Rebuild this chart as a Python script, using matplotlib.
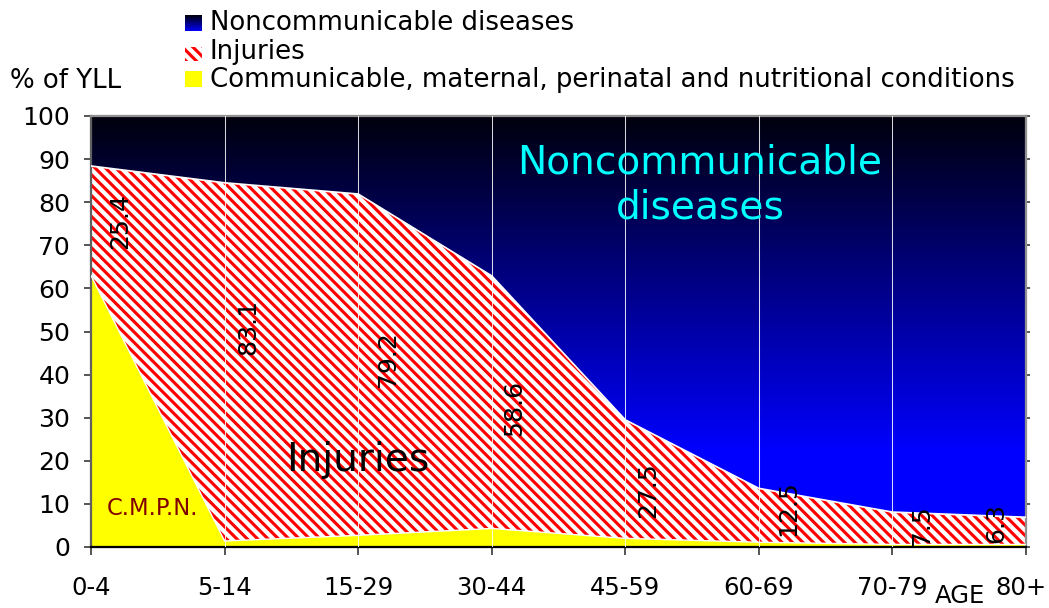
import numpy as np
import matplotlib
matplotlib.use('Agg')
import matplotlib.pyplot as plt
import matplotlib.transforms as mtransforms
from matplotlib.patches import Rectangle

plt.rcParams['font.family'] = ['DejaVu Sans']
plt.rcParams['hatch.linewidth'] = 1.8

# data (% of YLL by age group)
ages = ['0-4', '5-14', '15-29', '30-44', '45-59', '60-69', '70-79', '80+']
communicable = [63.0, 1.4, 2.7, 4.3, 2.0, 1.1, 0.6, 0.6]
injuries = [25.4, 83.1, 79.2, 58.6, 27.5, 12.5, 7.5, 6.3]
noncommunicable = [100 - c - i for c, i in zip(communicable, injuries)]

# where the rotated injury values sit (x offset from the age tick, y in %)
lab_dx = [0.22, 0.18, 0.22, 0.17, 0.17, 0.22, 0.22, -0.22]
lab_y = [75.6, 51.0, 43.5, 32.2, 13.2, 9.0, 5.0, 5.6]

W, H = 1049, 608
dpi = 125
fig = plt.figure(figsize=(W / dpi, H / dpi), dpi=dpi)
ax = fig.add_axes([91 / W, 1 - 547 / H, (1026 - 91) / W, (547 - 116) / H])

x = np.arange(len(ages))
comm = np.array(communicable)
inj_top = comm + np.array(injuries)

# gradient background = noncommunicable area
yy = np.linspace(0, 100, 400)
blue = np.clip(0.05 + (100 - yy) / 78 * 0.95, 0, 1)
grad = np.zeros((len(yy), 1, 3))
grad[:, 0, 2] = blue
ax.imshow(grad, extent=[0, len(ages) - 1, 0, 100], origin='lower',
          aspect='auto', interpolation='bilinear', zorder=0)

hatch = '\\\\\\\\'
ax.fill_between(x, comm, inj_top, facecolor='white', edgecolor='red',
                hatch=hatch, linewidth=0, zorder=1)
ax.fill_between(x, 0, comm, facecolor='yellow', linewidth=0, zorder=2)
ax.plot(x, inj_top, color='white', lw=1.0, zorder=3)
ax.plot(x, comm, color='white', lw=0.8, zorder=3)

for xi in x[1:-1]:
    ax.axvline(xi, color='white', lw=0.6, alpha=0.85, zorder=3)

for i, v in enumerate(injuries):
    ax.text(x[i] + lab_dx[i], lab_y[i], str(v), rotation=90, ha='center',
            va='center', fontsize=14.5, color='black', zorder=5)

ax.text(4.56, 84.0, 'Noncommunicable\ndiseases', color='#00FFFF',
        fontsize=22.5, ha='center', va='center', linespacing=1.25, zorder=5)
ax.text(2.0, 20.2, 'Injuries', color='black', fontsize=22.5,
        ha='center', va='center', zorder=5)
ax.text(0.46, 9.0, 'C.M.P.N.', color='#800000', fontsize=13,
        ha='center', va='center', zorder=5)

ax.set_xlim(0, len(ages) - 1)
ax.set_ylim(0, 100)
ax.set_xticks(x)
ax.set_xticklabels(ages, fontsize=14)
ax.set_yticks(np.arange(0, 101, 10))
ax.tick_params(axis='y', labelsize=14.5, length=4, width=1, pad=8,
               color='#404040')
ax.tick_params(axis='x', length=4.5, width=1, pad=12, color='#404040')
ax.tick_params(axis='y', which='both', right=True, direction='out')

# nudge the last age label in so it stays inside the figure
last = ax.get_xticklabels()[-1]
last.set_transform(last.get_transform() +
                   mtransforms.ScaledTranslation(-5 / dpi, 0, fig.dpi_scale_trans))

for side in ['top', 'right']:
    ax.spines[side].set_color('#909090')
    ax.spines[side].set_linewidth(1.3)
ax.spines['left'].set_color('#606060')
ax.spines['left'].set_linewidth(1.3)
ax.spines['bottom'].set_color('black')
ax.spines['bottom'].set_linewidth(1.3)
for t in ax.yaxis.get_major_ticks():
    t.tick2line.set_markersize(2.5)
    t.tick2line.set_color('#909090')

fig.text(10 / W, 1 - 81 / H, '% of YLL', fontsize=15, ha='left', va='center')
fig.text(960 / W, 1 - 596 / H, 'AGE', fontsize=14, ha='center', va='center')

# legend, drawn by hand
leg_labels = ['Noncommunicable diseases', 'Injuries',
              'Communicable, maternal, perinatal and nutritional conditions']
leg_y = [23, 52, 80]
sw = fig.add_axes([185 / W, 1 - 31 / H, 17 / W, 16 / H])
sw.imshow(grad[::-1][:300], aspect='auto', extent=[0, 1, 0, 1], origin='upper')
sw.axis('off')
fig.patches.append(Rectangle((185 / W, 1 - 61 / H), 17 / W, 14 / H,
                             transform=fig.transFigure, facecolor='white',
                             edgecolor='red', hatch=hatch, linewidth=0))
fig.patches.append(Rectangle((185 / W, 1 - 87 / H), 17 / W, 16 / H,
                             transform=fig.transFigure, facecolor='yellow',
                             linewidth=0))
for lab, ly in zip(leg_labels, leg_y):
    fig.text(210 / W, 1 - ly / H, lab, fontsize=15, ha='left', va='center')

fig.savefig('out.png', dpi=dpi)
